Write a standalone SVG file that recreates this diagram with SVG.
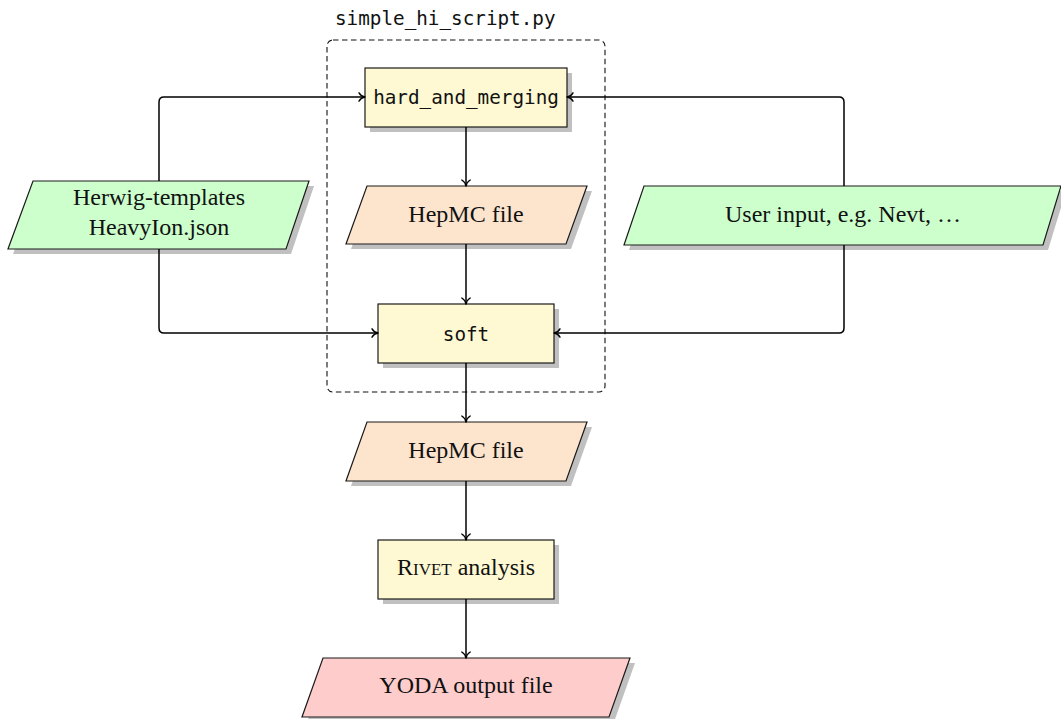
<svg xmlns="http://www.w3.org/2000/svg" width="1061" height="719" viewBox="0 0 1061 719">
<defs>
<style>
.sh{fill:#c0c0c0;stroke:none}
.proc{fill:#fff9d3;stroke:#1a1a1a;stroke-width:1.2}
.io{fill:#ccffcc;stroke:#1a1a1a;stroke-width:1.2}
.file{fill:#fde4cd;stroke:#1a1a1a;stroke-width:1.2}
.out{fill:#ffcccc;stroke:#1a1a1a;stroke-width:1.2}
.serif{font-family:"Liberation Serif","DejaVu Serif",serif;font-size:24px;fill:#111;text-anchor:middle}
.mono{font-family:"DejaVu Sans Mono","Liberation Mono",monospace;font-size:19.3px;fill:#111}
.c{text-anchor:middle}
.edge{fill:none;stroke:#000;stroke-width:1.5;marker-end:url(#arr)}
</style>
<marker id="arr" markerUnits="userSpaceOnUse" markerWidth="14" markerHeight="14" viewBox="-8 -7 9 14" refX="0" refY="0" orient="auto">
<path d="M-6,-4.2 C-4.6,-1.8 -2,-0.4 0,0 C-2,0.4 -4.6,1.8 -6,4.2" fill="none" stroke="#000" stroke-width="1.4" stroke-linecap="round" stroke-linejoin="round"/>
</marker>
</defs>
<rect width="1061" height="719" fill="#fff"/>

<g id="script-box">
<rect x="327" y="40" width="278" height="352" rx="6" fill="none" stroke="#111" stroke-width="1.1" stroke-dasharray="5.5,3.5"/>
<text class="mono" x="335" y="25">simple_hi_script.py</text>
</g>

<g id="hard_and_merging">
<rect class="sh" x="370" y="73" width="202" height="59"/>
<rect class="proc" x="365" y="68" width="202" height="59"/>
<text class="mono c" x="466" y="104">hard_and_merging</text>
</g>

<g id="hepmc1">
<polygon class="sh" points="372,191 592,191 571,249 351,249"/>
<polygon class="file" points="367,186 587,186 566,244 346,244"/>
<text class="serif" x="466" y="221.5">HepMC file</text>
</g>

<g id="soft">
<rect class="sh" x="383" y="309" width="176" height="59"/>
<rect class="proc" x="378" y="304" width="176" height="59"/>
<text class="mono c" x="466" y="340.5">soft</text>
</g>

<g id="herwig">
<polygon class="sh" points="38,186 314,186 291,254 13,254"/>
<polygon class="io" points="33,181 309,181 286,249 8,249"/>
<text class="serif" x="159" y="205">Herwig-templates</text>
<text class="serif" x="159" y="235">HeavyIon.json</text>
</g>

<g id="user-input">
<polygon class="sh" points="649,191 1066,191 1048,250 629,250"/>
<polygon class="io" points="644,186 1061,186 1043,245 624,245"/>
<text class="serif" x="843" y="222">User input, e.g. Nevt, …</text>
</g>

<g id="hepmc2">
<polygon class="sh" points="372,427 592,427 571,486 351,486"/>
<polygon class="file" points="367,422 587,422 566,481 346,481"/>
<text class="serif" x="466" y="457.5">HepMC file</text>
</g>

<g id="rivet">
<rect class="sh" x="383" y="545" width="176" height="59"/>
<rect class="proc" x="378" y="540" width="176" height="59"/>
<text class="serif" x="466" y="574.5"><tspan style="font-variant:small-caps">Rivet</tspan> analysis</text>
</g>

<g id="yoda">
<polygon class="sh" points="328,663 635,663 614,722 307,722"/>
<polygon class="out" points="323,658 630,658 609,717 302,717"/>
<text class="serif" x="466" y="692.5">YODA output file</text>
</g>

<g id="connectors">
<path class="edge" d="M159,181 V102 Q159,97 164,97 H365"/>
<path class="edge" d="M159,249 V328 Q159,333 164,333 H378"/>
<path class="edge" d="M844,186 V102 Q844,97 839,97 H567"/>
<path class="edge" d="M844,245 V328 Q844,333 839,333 H554"/>
<path class="edge" d="M466,127 V186"/>
<path class="edge" d="M466,244 V304"/>
<path class="edge" d="M466,363 V422"/>
<path class="edge" d="M466,481 V540"/>
<path class="edge" d="M466,599 V658"/>
</g>
</svg>
